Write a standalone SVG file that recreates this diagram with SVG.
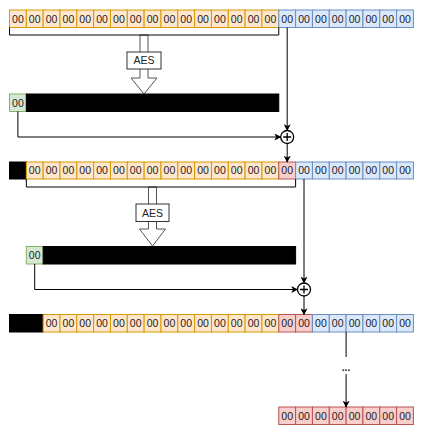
<svg xmlns="http://www.w3.org/2000/svg" width="433" height="437" viewBox="0 0 433 437">
<style>
.y{fill:#ffe6cc;stroke:#d79b00;stroke-width:1}
.b{fill:#dae8fc;stroke:#6c8ebf;stroke-width:1}
.r{fill:#f8cecc;stroke:#b85450;stroke-width:1}
.g{fill:#d5e8d4;stroke:#82b366;stroke-width:1}
.k{fill:#000;stroke:#000;stroke-width:1}
text{font-family:"Liberation Sans",Arial,sans-serif;font-size:10.5px;fill:#222;text-anchor:middle}
.ln{fill:none;stroke:#000;stroke-width:1}
.ar{fill:none;stroke:#000;stroke-width:1;marker-end:url(#ah)}
.ha{fill:#fff;stroke:#555;stroke-width:1}
.box{fill:#fff;stroke:#333;stroke-width:1}
</style>
<defs>
<marker id="ah" viewBox="0 0 10 10" refX="9" refY="5" markerWidth="7" markerHeight="7" markerUnits="userSpaceOnUse" orient="auto">
<path d="M0,0 L10,5 L0,10 L2.5,5 Z" fill="#000"/>
</marker>
</defs>
<rect width="433" height="437" fill="#fff"/>

<g id="row1">
<rect class="y" x="9.5" y="10" width="16.83" height="17.5"/><text x="17.9" y="22.6">00</text>
<rect class="y" x="26.33" y="10" width="16.83" height="17.5"/><text x="34.7" y="22.6">00</text>
<rect class="y" x="43.16" y="10" width="16.83" height="17.5"/><text x="51.6" y="22.6">00</text>
<rect class="y" x="59.99" y="10" width="16.83" height="17.5"/><text x="68.4" y="22.6">00</text>
<rect class="y" x="76.82" y="10" width="16.83" height="17.5"/><text x="85.2" y="22.6">00</text>
<rect class="y" x="93.65" y="10" width="16.83" height="17.5"/><text x="102.1" y="22.6">00</text>
<rect class="y" x="110.48" y="10" width="16.83" height="17.5"/><text x="118.9" y="22.6">00</text>
<rect class="y" x="127.31" y="10" width="16.83" height="17.5"/><text x="135.7" y="22.6">00</text>
<rect class="y" x="144.14" y="10" width="16.83" height="17.5"/><text x="152.6" y="22.6">00</text>
<rect class="y" x="160.97" y="10" width="16.83" height="17.5"/><text x="169.4" y="22.6">00</text>
<rect class="y" x="177.8" y="10" width="16.83" height="17.5"/><text x="186.2" y="22.6">00</text>
<rect class="y" x="194.63" y="10" width="16.83" height="17.5"/><text x="203.0" y="22.6">00</text>
<rect class="y" x="211.46" y="10" width="16.83" height="17.5"/><text x="219.9" y="22.6">00</text>
<rect class="y" x="228.29" y="10" width="16.83" height="17.5"/><text x="236.7" y="22.6">00</text>
<rect class="y" x="245.12" y="10" width="16.83" height="17.5"/><text x="253.5" y="22.6">00</text>
<rect class="y" x="261.95" y="10" width="16.83" height="17.5"/><text x="270.4" y="22.6">00</text>
<rect class="b" x="278.78" y="10" width="16.83" height="17.5"/><text x="287.2" y="22.6">00</text>
<rect class="b" x="295.61" y="10" width="16.83" height="17.5"/><text x="304.0" y="22.6">00</text>
<rect class="b" x="312.44" y="10" width="16.83" height="17.5"/><text x="320.9" y="22.6">00</text>
<rect class="b" x="329.27" y="10" width="16.83" height="17.5"/><text x="337.7" y="22.6">00</text>
<rect class="b" x="346.1" y="10" width="16.83" height="17.5"/><text x="354.5" y="22.6">00</text>
<rect class="b" x="362.93" y="10" width="16.83" height="17.5"/><text x="371.3" y="22.6">00</text>
<rect class="b" x="379.76" y="10" width="16.83" height="17.5"/><text x="388.2" y="22.6">00</text>
<rect class="b" x="396.59" y="10" width="16.83" height="17.5"/><text x="405.0" y="22.6">00</text>
</g>

<g id="aes1">
<path class="ha" d="M140,35 L148,35 L148,78 L157,78 L144,94 L131,78 L140,78 Z"/>
<rect class="box" x="127" y="52" width="34" height="17"/>
<text x="144" y="64.3">AES</text>
</g>

<g id="row2">
<rect class="g" x="9.5" y="94" width="16.83" height="17.5"/><text x="17.9" y="106.5">00</text>
<rect class="k" x="26.33" y="94" width="252.45" height="17.5"/>
</g>

<g id="xor1">
<circle cx="287.2" cy="137" r="6.5" fill="#fff" stroke="#000" stroke-width="1.3"/>
<path d="M283.2,137 H291.2 M287.2,133 V141" stroke="#000" stroke-width="1.3"/>
</g>

<g id="row3">
<rect class="k" x="9.5" y="162" width="16.83" height="17"/>
<rect class="y" x="26.33" y="162" width="16.83" height="17"/><text x="34.7" y="174.2">00</text>
<rect class="y" x="43.16" y="162" width="16.83" height="17"/><text x="51.6" y="174.2">00</text>
<rect class="y" x="59.99" y="162" width="16.83" height="17"/><text x="68.4" y="174.2">00</text>
<rect class="y" x="76.82" y="162" width="16.83" height="17"/><text x="85.2" y="174.2">00</text>
<rect class="y" x="93.65" y="162" width="16.83" height="17"/><text x="102.1" y="174.2">00</text>
<rect class="y" x="110.48" y="162" width="16.83" height="17"/><text x="118.9" y="174.2">00</text>
<rect class="y" x="127.31" y="162" width="16.83" height="17"/><text x="135.7" y="174.2">00</text>
<rect class="y" x="144.14" y="162" width="16.83" height="17"/><text x="152.6" y="174.2">00</text>
<rect class="y" x="160.97" y="162" width="16.83" height="17"/><text x="169.4" y="174.2">00</text>
<rect class="y" x="177.8" y="162" width="16.83" height="17"/><text x="186.2" y="174.2">00</text>
<rect class="y" x="194.63" y="162" width="16.83" height="17"/><text x="203.0" y="174.2">00</text>
<rect class="y" x="211.46" y="162" width="16.83" height="17"/><text x="219.9" y="174.2">00</text>
<rect class="y" x="228.29" y="162" width="16.83" height="17"/><text x="236.7" y="174.2">00</text>
<rect class="y" x="245.12" y="162" width="16.83" height="17"/><text x="253.5" y="174.2">00</text>
<rect class="y" x="261.95" y="162" width="16.83" height="17"/><text x="270.4" y="174.2">00</text>
<rect class="r" x="278.78" y="162" width="16.83" height="17"/><text x="287.2" y="174.2">00</text>
<rect class="b" x="295.61" y="162" width="16.83" height="17"/><text x="304.0" y="174.2">00</text>
<rect class="b" x="312.44" y="162" width="16.83" height="17"/><text x="320.9" y="174.2">00</text>
<rect class="b" x="329.27" y="162" width="16.83" height="17"/><text x="337.7" y="174.2">00</text>
<rect class="b" x="346.1" y="162" width="16.83" height="17"/><text x="354.5" y="174.2">00</text>
<rect class="b" x="362.93" y="162" width="16.83" height="17"/><text x="371.3" y="174.2">00</text>
<rect class="b" x="379.76" y="162" width="16.83" height="17"/><text x="388.2" y="174.2">00</text>
<rect class="b" x="396.59" y="162" width="16.83" height="17"/><text x="405.0" y="174.2">00</text>
</g>

<g id="aes2">
<path class="ha" d="M148.5,187 L156.5,187 L156.5,229 L165.5,229 L152.5,246 L139.5,229 L148.5,229 Z"/>
<rect class="box" x="136" y="204" width="33" height="17.5"/>
<text x="152.5" y="216.6">AES</text>
</g>

<g id="row4">
<rect class="g" x="26.33" y="246.5" width="16.83" height="17.5"/><text x="34.7" y="259">00</text>
<rect class="k" x="43.16" y="246.5" width="252.45" height="17.5"/>
</g>

<g id="xor2">
<circle cx="304" cy="289.5" r="6.5" fill="#fff" stroke="#000" stroke-width="1.3"/>
<path d="M300,289.5 H308 M304,285.5 V293.5" stroke="#000" stroke-width="1.3"/>
</g>

<g id="row5">
<rect class="k" x="9.5" y="314.5" width="33.66" height="17.5"/>
<rect class="y" x="43.16" y="314.5" width="16.83" height="17.5"/><text x="51.6" y="327">00</text>
<rect class="y" x="59.99" y="314.5" width="16.83" height="17.5"/><text x="68.4" y="327">00</text>
<rect class="y" x="76.82" y="314.5" width="16.83" height="17.5"/><text x="85.2" y="327">00</text>
<rect class="y" x="93.65" y="314.5" width="16.83" height="17.5"/><text x="102.1" y="327">00</text>
<rect class="y" x="110.48" y="314.5" width="16.83" height="17.5"/><text x="118.9" y="327">00</text>
<rect class="y" x="127.31" y="314.5" width="16.83" height="17.5"/><text x="135.7" y="327">00</text>
<rect class="y" x="144.14" y="314.5" width="16.83" height="17.5"/><text x="152.6" y="327">00</text>
<rect class="y" x="160.97" y="314.5" width="16.83" height="17.5"/><text x="169.4" y="327">00</text>
<rect class="y" x="177.8" y="314.5" width="16.83" height="17.5"/><text x="186.2" y="327">00</text>
<rect class="y" x="194.63" y="314.5" width="16.83" height="17.5"/><text x="203.0" y="327">00</text>
<rect class="y" x="211.46" y="314.5" width="16.83" height="17.5"/><text x="219.9" y="327">00</text>
<rect class="y" x="228.29" y="314.5" width="16.83" height="17.5"/><text x="236.7" y="327">00</text>
<rect class="y" x="245.12" y="314.5" width="16.83" height="17.5"/><text x="253.5" y="327">00</text>
<rect class="y" x="261.95" y="314.5" width="16.83" height="17.5"/><text x="270.4" y="327">00</text>
<rect class="r" x="278.78" y="314.5" width="16.83" height="17.5"/><text x="287.2" y="327">00</text>
<rect class="r" x="295.61" y="314.5" width="16.83" height="17.5"/><text x="304.0" y="327">00</text>
<rect class="b" x="312.44" y="314.5" width="16.83" height="17.5"/><text x="320.9" y="327">00</text>
<rect class="b" x="329.27" y="314.5" width="16.83" height="17.5"/><text x="337.7" y="327">00</text>
<rect class="b" x="346.1" y="314.5" width="16.83" height="17.5"/><text x="354.5" y="327">00</text>
<rect class="b" x="362.93" y="314.5" width="16.83" height="17.5"/><text x="371.3" y="327">00</text>
<rect class="b" x="379.76" y="314.5" width="16.83" height="17.5"/><text x="388.2" y="327">00</text>
<rect class="b" x="396.59" y="314.5" width="16.83" height="17.5"/><text x="405.0" y="327">00</text>
</g>

<g id="row6">
<rect class="r" x="278.78" y="407" width="16.83" height="17.5"/><text x="287.2" y="419.5">00</text>
<rect class="r" x="295.61" y="407" width="16.83" height="17.5"/><text x="304.0" y="419.5">00</text>
<rect class="r" x="312.44" y="407" width="16.83" height="17.5"/><text x="320.9" y="419.5">00</text>
<rect class="r" x="329.27" y="407" width="16.83" height="17.5"/><text x="337.7" y="419.5">00</text>
<rect class="r" x="346.1" y="407" width="16.83" height="17.5"/><text x="354.5" y="419.5">00</text>
<rect class="r" x="362.93" y="407" width="16.83" height="17.5"/><text x="371.3" y="419.5">00</text>
<rect class="r" x="379.76" y="407" width="16.83" height="17.5"/><text x="388.2" y="419.5">00</text>
<rect class="r" x="396.59" y="407" width="16.83" height="17.5"/><text x="405.0" y="419.5">00</text>
</g>

<g id="connectors">
<path class="ln" d="M9.5,27.5 V35 H278.78 V27.5"/>
<path class="ln" d="M26.33,179 V187 H295.61 V179"/>
<path class="ar" d="M287.2,27.5 V130.5"/>
<path class="ar" d="M17.9,111.5 V137 H280.7"/>
<path class="ar" d="M287.2,143.5 V162"/>
<path class="ar" d="M304,179 V283"/>
<path class="ar" d="M34.7,264 V289.5 H297.5"/>
<path class="ar" d="M304,296 V314.5"/>
<path class="ln" d="M346.1,332 V357"/>
<text x="346.1" y="371" style="font-weight:bold">...</text>
<path class="ar" d="M346.1,374 V407"/>
</g>
</svg>
